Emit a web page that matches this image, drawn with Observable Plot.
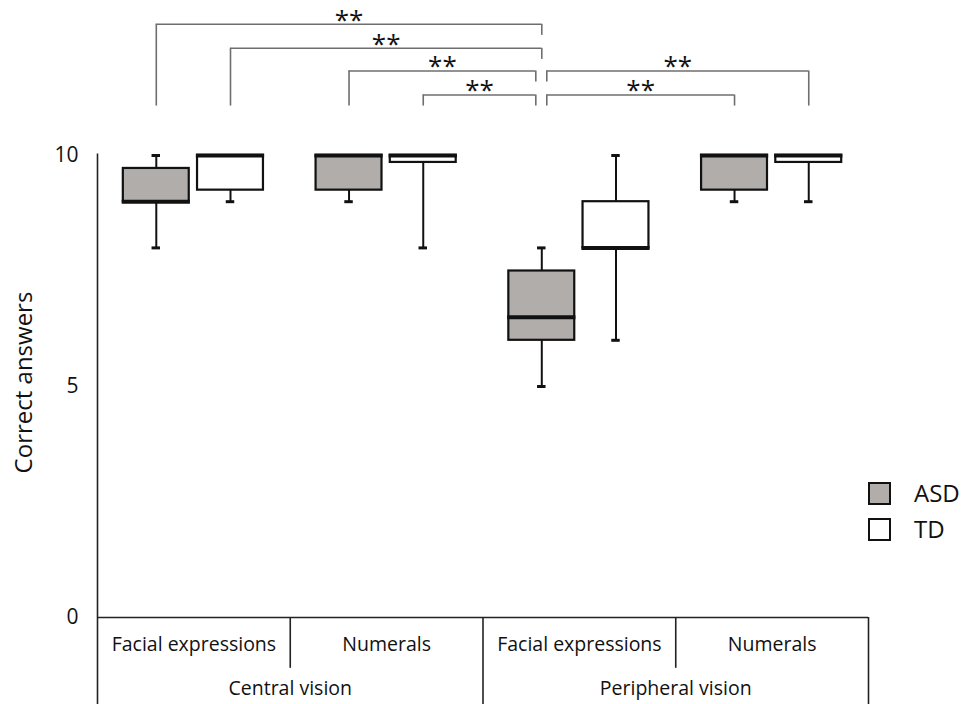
<!DOCTYPE html>
<html><head><meta charset="utf-8">
<script src="https://cdn.jsdelivr.net/npm/d3@7"></script>
<script src="https://cdn.jsdelivr.net/npm/@observablehq/plot@0.6"></script>
<style>
body{margin:0;background:#fff;font-family:"Open Sans",sans-serif;}
#wrap{position:relative;width:968px;height:704px;overflow:hidden;}
.sw{position:absolute;left:868px;width:23px;height:23px;box-sizing:border-box;border:2px solid #111;}
.lt{position:absolute;left:914px;font-size:24px;line-height:23px;color:#111;}
</style></head><body><div id="wrap"></div>
<script>
// ---- data ----
const groups = ["Facial expressions", "Numerals", "Facial expressions", "Numerals"];
const visions = ["Central vision", "Peripheral vision"];
const seriesNames = ["ASD", "TD"];
const seriesColors = ["#b1adab", "#ffffff"];

const asdMin    = [8,    9,    5,   9];
const asdQ1     = [9,    9.25, 6,   9.25];
const asdMedian = [9,    10,   6.5, 10];
const asdQ3     = [9.72, 10,   7.5, 10];
const asdMax    = [10,   10,   8,   10];

const tdMin    = [9,    8,    6, 9];
const tdQ1     = [9.25, 9.85, 8, 9.85];
const tdMedian = [10,   10,   8, 10];
const tdQ3     = [10,   10,   9, 10];
const tdMax    = [10,   10,  10, 10];

// significance brackets: from box (group, series) to box (group, series)
const sigFromGroup  = [0, 0, 1, 1, 2, 2];
const sigFromSeries = ["ASD", "TD", "ASD", "TD", "ASD", "ASD"];
const sigToGroup    = [2, 2, 2, 2, 3, 3];
const sigToSeries   = ["ASD", "ASD", "ASD", "ASD", "TD", "ASD"];
const sigLevel      = [12.84, 12.32, 11.83, 11.31, 11.83, 11.31];
const sigLabel      = ["**", "**", "**", "**", "**", "**"];
const yTicks = [0, 5, 10];

// ---- build tables ----
const boxes = [];
groups.forEach((g, i) => {
  boxes.push({group: i, series: "ASD", min: asdMin[i], q1: asdQ1[i], median: asdMedian[i], q3: asdQ3[i], max: asdMax[i]});
  boxes.push({group: i, series: "TD", min: tdMin[i], q1: tdQ1[i], median: tdMedian[i], q3: tdQ3[i], max: tdMax[i]});
});
const offset = {ASD: 0.305, TD: 0.69};
const halfW = 0.171, capHalf = 0.022;
const center = b => b.group + offset[b.series];

const hubG = 2, hubS = "ASD";
const sigs = sigLevel.map((lv, i) => {
  const ends = [[sigFromGroup[i], sigFromSeries[i], sigToGroup[i]], [sigToGroup[i], sigToSeries[i], sigFromGroup[i]]].map(([g, s, other]) => {
    const hub = g === hubG && s === hubS;
    let nudge = 0;
    if (hub) nudge = other < g ? (lv > 12 ? 0 : -0.031) : 0.026;
    return {x: g + offset[s] + nudge, y1: lv, y2: hub ? lv - 0.24 : 11.07};
  });
  return {x1: ends[0].x, x2: ends[1].x, level: lv, label: sigLabel[i], ends};
});
const sigEnds = sigs.flatMap(d => d.ends);

const up = boxes.filter(b => b.max > b.q3);
const down = boxes.filter(b => b.min < b.q1);

const plot = Plot.plot({
  width: 968, height: 704,
  marginLeft: 97, marginRight: 100, marginTop: 155, marginBottom: 87,
  x: {domain: [0, 4]},
  y: {domain: [0, 10]},
  color: {domain: seriesNames, range: seriesColors},
  style: {fontFamily: "Open Sans, sans-serif", color: "#111", background: "transparent", overflow: "visible"},
  marks: [
    // table / axes lines
    Plot.ruleY([0], {stroke: "#222", strokeWidth: 1.6}),
    Plot.ruleX([0], {y1: -1.95, y2: 10.03, stroke: "#222", strokeWidth: 1.6}),
    Plot.ruleX([2, 4], {y1: -1.95, y2: 0, stroke: "#222", strokeWidth: 1.6}),
    Plot.ruleX([1, 3], {y1: -1.1, y2: 0, stroke: "#222", strokeWidth: 1.6}),
    Plot.axisY(yTicks, {tickSize: 0, tickPadding: 19, fontSize: 21, label: null}),
    Plot.text(["Correct answers"], {frameAnchor: "left", textAnchor: "middle", rotate: -90, dx: -73, dy: -4, fontSize: 24, fill: "#111"}),
    Plot.axisX([0.5, 1.5, 2.5, 3.5], {tickSize: 0, tickPadding: 20, fontSize: 19.5, tickFormat: d => groups[d - 0.5], label: null}),
    Plot.axisX([1, 3], {tickSize: 0, tickPadding: 64, fontSize: 19.5, tickFormat: d => visions[(d - 1) / 2], label: null}),
    // whiskers
    Plot.ruleX(up, {x: center, y1: "q3", y2: "max", stroke: "#111", strokeWidth: 2}),
    Plot.ruleX(down, {x: center, y1: "min", y2: "q1", stroke: "#111", strokeWidth: 2}),
    Plot.ruleY(up, {y: "max", x1: b => center(b) - capHalf, x2: b => center(b) + capHalf, stroke: "#111", strokeWidth: 3}),
    Plot.ruleY(down, {y: "min", x1: b => center(b) - capHalf, x2: b => center(b) + capHalf, stroke: "#111", strokeWidth: 3}),
    // boxes
    Plot.rect(boxes, {x1: b => center(b) - halfW, x2: b => center(b) + halfW, y1: "q1", y2: "q3", fill: "series", stroke: "#111", strokeWidth: 2.2}),
    Plot.ruleY(boxes, {y: "median", x1: b => center(b) - halfW - 0.006, x2: b => center(b) + halfW + 0.006, stroke: "#111", strokeWidth: 4}),
    // significance brackets
    Plot.ruleY(sigs, {y: "level", x1: "x1", x2: "x2", stroke: "#6e6e6e", strokeWidth: 1.6}),
    Plot.ruleX(sigEnds, {x: "x", y1: "y1", y2: "y2", stroke: "#6e6e6e", strokeWidth: 1.6}),
    Plot.text(sigs, {x: d => (d.x1 + d.x2) / 2, y: "level", text: "label", fontSize: 26, dy: -4, fill: "#111"})
  ]
});
const wrap = document.getElementById("wrap");
wrap.appendChild(plot);
// legend
const legTops = [482, 518];
seriesNames.forEach((s, i) => {
  const sw = document.createElement("div");
  sw.className = "sw"; sw.style.top = legTops[i] + "px"; sw.style.background = seriesColors[i];
  const t = document.createElement("div");
  t.className = "lt"; t.style.top = (legTops[i] - 1) + "px"; t.textContent = s;
  wrap.appendChild(sw); wrap.appendChild(t);
});
</script>
</body></html>
